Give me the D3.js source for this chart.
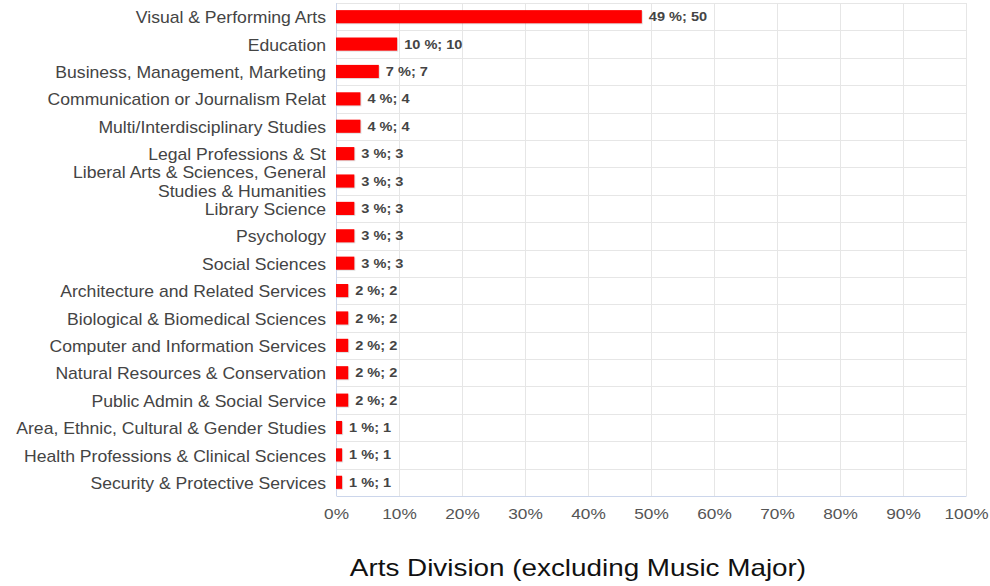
<!DOCTYPE html>
<html>
<head>
<meta charset="utf-8">
<script src="https://cdn.jsdelivr.net/npm/d3@7"></script>
<style>
  body { margin: 0; background: #fff; }
  svg { display: block; font-family: "Liberation Sans", Arial, sans-serif; }
</style>
</head>
<body>
<div id="chart"></div>
<script>
// categories and counts
var categories = [
  "Visual & Performing Arts",
  "Education",
  "Business, Management, Marketing",
  "Communication or Journalism Relat",
  "Multi/Interdisciplinary Studies",
  "Legal Professions & St",
  "Liberal Arts & Sciences, General|Studies & Humanities",
  "Library Science",
  "Psychology",
  "Social Sciences",
  "Architecture and Related Services",
  "Biological & Biomedical Sciences",
  "Computer and Information Services",
  "Natural Resources & Conservation",
  "Public Admin & Social Service",
  "Area, Ethnic, Cultural & Gender Studies",
  "Health Professions & Clinical Sciences",
  "Security & Protective Services"
];
var counts = [50, 10, 7, 4, 4, 3, 3, 3, 3, 3, 2, 2, 2, 2, 2, 1, 1, 1];
var percentLabels = [49, 10, 7, 4, 4, 3, 3, 3, 3, 3, 2, 2, 2, 2, 2, 1, 1, 1];
var xTicks = [0, 0.1, 0.2, 0.3, 0.4, 0.5, 0.6, 0.7, 0.8, 0.9, 1];
var chartTitle = "Arts Division (excluding Music Major)";

var total = d3.sum(counts);
var data = categories.map(function(c, i) {
  return {name: c, count: counts[i], share: counts[i] / total, pct: percentLabels[i]};
});

var W = 990, H = 586;
var margin = {top: 3, right: 24, bottom: 90, left: 336};
var width = W - margin.left - margin.right;
var height = H - margin.top - margin.bottom;

// the original text is a bit wider than the fonts we have
var stretch = 1.1;

var svg = d3.select("#chart").append("svg")
    .attr("width", W)
    .attr("height", H);
var g = svg.append("g")
    .attr("transform", "translate(" + margin.left + "," + margin.top + ")");

var x = d3.scaleLinear().domain([0, 1]).range([0, width]);
var y = d3.scaleBand().domain(categories).range([0, height]).paddingInner(0.52).paddingOuter(0.26);
var step = y.step();

// grid - vertical
g.selectAll(".vgrid").data(xTicks.slice(1)).enter().append("line")
    .attr("x1", function(d) { return x(d) + 0.5; })
    .attr("x2", function(d) { return x(d) + 0.5; })
    .attr("y1", 0).attr("y2", height)
    .attr("stroke", "#e6e6e6");

// grid - horizontal (band boundaries)
g.selectAll(".hgrid").data(d3.range(categories.length)).enter().append("line")
    .attr("x1", 0).attr("x2", width)
    .attr("y1", function(d) { return Math.round(d * step) + 0.5; })
    .attr("y2", function(d) { return Math.round(d * step) + 0.5; })
    .attr("stroke", "#e6e6e6");

// bottom axis
var xAxis = g.append("g")
    .attr("transform", "translate(0," + height + ")")
    .call(d3.axisBottom(x).tickValues(xTicks).tickFormat(d3.format(".0%")).tickSize(0).tickPadding(12));
xAxis.select(".domain").attr("stroke", "#ccd6eb");
xAxis.selectAll("text")
    .attr("fill", "#555")
    .attr("transform", "scale(1.15,1)")
    .style("font-size", "15px")
    .style("font-family", "'Liberation Sans', Arial, sans-serif");

// left axis line
g.append("line")
    .attr("x1", 0.5).attr("x2", 0.5).attr("y1", 0).attr("y2", height)
    .attr("stroke", "#ccd6eb");

// bars with a faint shadow
var bars = g.selectAll(".bar").data(data).enter().append("g");
bars.append("rect")
    .attr("x", 1)
    .attr("y", function(d) { return y(d.name) + 1; })
    .attr("width", function(d) { return x(d.share); })
    .attr("height", y.bandwidth())
    .attr("fill", "#000").attr("opacity", 0.12);
bars.append("rect")
    .attr("x", 0)
    .attr("y", function(d) { return y(d.name); })
    .attr("width", function(d) { return x(d.share); })
    .attr("height", y.bandwidth())
    .attr("fill", "#ff0000");

// value labels
bars.append("text")
    .attr("transform", function(d) {
      return "translate(" + (x(d.share) + 7) + "," + (y(d.name) + y.bandwidth() / 2) + ") scale(1.12,1)";
    })
    .attr("dy", "0.35em")
    .attr("fill", "#444")
    .style("font-size", "13px")
    .style("font-weight", "bold")
    .text(function(d) { return d.pct + " %; " + d.count; });

// category labels
var labels = g.selectAll(".cat").data(data).enter().append("text")
    .attr("transform", function(d) {
      return "translate(-10," + (y(d.name) + y.bandwidth() / 2 + 1) + ") scale(" + stretch + ",1)";
    })
    .attr("text-anchor", "end")
    .attr("fill", "#444")
    .style("font-size", "16px");
labels.each(function(d) {
  var lines = d.name.split("|");
  var t = d3.select(this);
  var lh = 19;
  lines.forEach(function(l, i) {
    t.append("tspan")
      .attr("x", 0)
      .attr("dy", i === 0 ? (0.35 - (lines.length - 1) * 0.5 * lh / 16) + "em" : lh + "px")
      .text(l);
  });
});

// title
svg.append("text")
    .attr("transform", "translate(578,576) scale(1.16,1)")
    .attr("text-anchor", "middle")
    .attr("fill", "#111")
    .style("font-size", "24px")
    .text(chartTitle);
</script>
</body>
</html>
